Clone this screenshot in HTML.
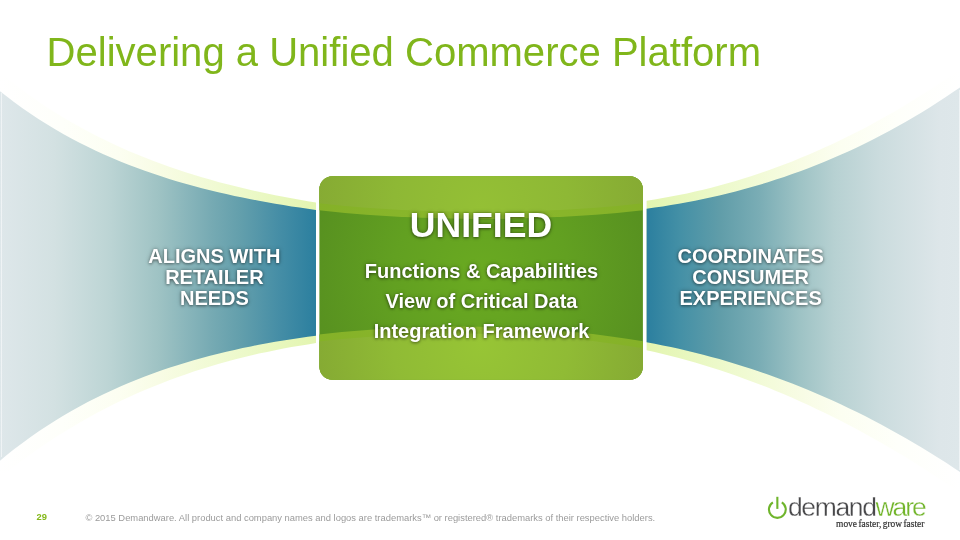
<!DOCTYPE html>
<html lang="en"><head><meta charset="utf-8"><title>Delivering a Unified Commerce Platform</title>
<style>
html,body{margin:0;padding:0;background:#fff}
#s{position:relative;width:960px;height:540px;overflow:hidden;background:#fff;font-family:"Liberation Sans",sans-serif}
#s svg.bg{position:absolute;left:0;top:0}
.t{position:absolute;white-space:nowrap;margin:0}
#tx{position:absolute;left:0;top:0;width:960px;height:540px;will-change:transform}
#title{left:46.6px;top:31.9px;font-size:40.05px;line-height:40px;color:#80b61b;font-weight:normal}
.w{color:#fff;font-weight:bold;text-align:center;text-shadow:0 1px 3px rgba(0,0,0,.4),0 0 4px rgba(0,0,0,.35)}
#uni{left:331px;width:300px;top:207.4px;font-size:35.6px;line-height:36px}
#sub{left:331.5px;width:300px;top:257.4px;font-size:20px;line-height:29.6px}
#lt{left:114.4px;width:200px;top:245.6px;font-size:20px;line-height:21.4px}
#rt{left:650.6px;width:200px;top:245.6px;font-size:20px;line-height:21.4px}
#pn{left:36.6px;top:511.1px;font-size:9.33px;line-height:12px;font-weight:bold;color:#84b819}
#ft{left:85.4px;top:512.1px;font-size:9.38px;line-height:12px;color:#9b9b9b}
#lg{left:788.4px;top:492px;font-size:25px;line-height:30px;letter-spacing:-1.29px;color:#48484a;-webkit-text-stroke:.3px #fff;transform:scaleX(1.06);transform-origin:0 0}
#lg b{font-weight:normal;color:#72b52b;letter-spacing:-2px}
#tg{right:35.6px;top:517.6px;font-family:"Liberation Serif",serif;font-size:9.45px;line-height:12px;color:#333;word-spacing:-1px;-webkit-text-stroke:.2px #333}
</style></head><body>
<div id="s">
<svg class="bg" width="960" height="540" viewBox="0 0 960 540">
<defs>
<linearGradient id="gl" gradientUnits="userSpaceOnUse" x1="0" y1="0" x2="316" y2="0">
<stop offset="0" stop-color="#dee7ea"/><stop offset="0.17" stop-color="#d3e1e2"/><stop offset="0.34" stop-color="#bdd5d5"/><stop offset="0.5" stop-color="#9fc3c4"/><stop offset="0.67" stop-color="#76aab3"/><stop offset="0.76" stop-color="#639fac"/><stop offset="0.88" stop-color="#468ea6"/><stop offset="1" stop-color="#2b7f9f"/>
</linearGradient>
<linearGradient id="gr" gradientUnits="userSpaceOnUse" x1="960" y1="0" x2="646.6" y2="0">
<stop offset="0" stop-color="#dee7ea"/><stop offset="0.064" stop-color="#dde6e9"/><stop offset="0.255" stop-color="#cbdcde"/><stop offset="0.4" stop-color="#b7d1d2"/><stop offset="0.51" stop-color="#9ec3c5"/><stop offset="0.64" stop-color="#7aadb5"/><stop offset="0.766" stop-color="#609da9"/><stop offset="0.893" stop-color="#4490a6"/><stop offset="1" stop-color="#2b7f9f"/>
</linearGradient>
<linearGradient id="bl" gradientUnits="userSpaceOnUse" x1="0" y1="0" x2="316" y2="0">
<stop offset="0" stop-color="#ffffff"/><stop offset="0.2" stop-color="#fefffa"/><stop offset="0.38" stop-color="#fcfef1"/><stop offset="0.5" stop-color="#f8fce5"/><stop offset="0.78" stop-color="#ecf9c9"/><stop offset="1" stop-color="#e3f5b0"/>
</linearGradient>
<linearGradient id="br" gradientUnits="userSpaceOnUse" x1="960" y1="0" x2="646.6" y2="0">
<stop offset="0" stop-color="#ffffff"/><stop offset="0.2" stop-color="#fefffa"/><stop offset="0.38" stop-color="#fcfef1"/><stop offset="0.5" stop-color="#f8fce5"/><stop offset="0.78" stop-color="#ecf9c9"/><stop offset="1" stop-color="#e3f5b0"/>
</linearGradient>
<radialGradient id="gb" gradientUnits="userSpaceOnUse" cx="481" cy="275" r="175">
<stop offset="0" stop-color="#6aaa21"/><stop offset="0.5" stop-color="#62a021"/><stop offset="1" stop-color="#579020"/>
</radialGradient>
<radialGradient id="gt" gradientUnits="userSpaceOnUse" cx="481" cy="208" r="175">
<stop offset="0" stop-color="#94c035"/><stop offset="0.5" stop-color="#8eb835"/><stop offset="1" stop-color="#85a933"/>
</radialGradient>
<radialGradient id="gbt" gradientUnits="userSpaceOnUse" cx="481" cy="345" r="175">
<stop offset="0" stop-color="#97c535"/><stop offset="0.5" stop-color="#90bb35"/><stop offset="1" stop-color="#84a833"/>
</radialGradient>
<radialGradient id="gm" gradientUnits="userSpaceOnUse" cx="481" cy="278" r="190">
<stop offset="0" stop-color="#8dbb2e"/><stop offset="1" stop-color="#84b027"/>
</radialGradient>
<clipPath id="cb"><rect x="319.4" y="176.2" width="323.5" height="203.6" rx="13" ry="13"/></clipPath>
</defs>
<path d="M-2.0,70.9 L6.2,77.6 L14.3,84.0 L22.5,90.2 L30.6,96.1 L38.8,101.7 L46.9,107.2 L55.1,112.4 L63.2,117.4 L71.4,122.2 L79.5,126.8 L87.7,131.3 L95.8,135.5 L104.0,139.6 L112.2,143.5 L120.3,147.3 L128.5,150.9 L136.6,154.3 L144.8,157.6 L152.9,160.8 L161.1,163.8 L169.2,166.8 L177.4,169.6 L185.5,172.2 L193.7,174.8 L201.8,177.3 L210.0,179.6 L218.2,181.9 L226.3,184.0 L234.5,186.1 L242.6,188.1 L250.8,190.0 L258.9,191.8 L267.1,193.5 L275.2,195.2 L283.4,196.8 L291.5,198.3 L299.7,199.8 L307.8,201.2 L316.0,202.5 L316.0,343.1 L307.8,344.4 L299.7,345.7 L291.5,347.1 L283.4,348.6 L275.2,350.2 L267.1,351.9 L258.9,353.6 L250.8,355.5 L242.6,357.5 L234.5,359.6 L226.3,361.8 L218.2,364.0 L210.0,366.5 L201.8,369.0 L193.7,371.6 L185.5,374.4 L177.4,377.2 L169.2,380.3 L161.1,383.4 L152.9,386.7 L144.8,390.1 L136.6,393.6 L128.5,397.3 L120.3,401.1 L112.2,405.1 L104.0,409.3 L95.8,413.6 L87.7,418.0 L79.5,422.7 L71.4,427.5 L63.2,432.5 L55.1,437.6 L46.9,443.0 L38.8,448.5 L30.6,454.3 L22.5,460.2 L14.3,466.3 L6.2,472.7 L-2.0,479.3Z" fill="url(#bl)"/>
<path d="M-2.0,89.6 L6.2,96.1 L14.3,102.3 L22.5,108.2 L30.6,113.8 L38.8,119.2 L46.9,124.3 L55.1,129.3 L63.2,134.0 L71.4,138.4 L79.5,142.7 L87.7,146.8 L95.8,150.7 L104.0,154.5 L112.2,158.0 L120.3,161.5 L128.5,164.7 L136.6,167.8 L144.8,170.8 L152.9,173.6 L161.1,176.3 L169.2,178.9 L177.4,181.4 L185.5,183.8 L193.7,186.0 L201.8,188.2 L210.0,190.2 L218.2,192.2 L226.3,194.1 L234.5,195.9 L242.6,197.6 L250.8,199.2 L258.9,200.8 L267.1,202.3 L275.2,203.7 L283.4,205.1 L291.5,206.4 L299.7,207.6 L307.8,208.8 L316.0,209.9 L316.0,335.7 L307.8,336.8 L299.7,337.9 L291.5,339.2 L283.4,340.5 L275.2,341.8 L267.1,343.3 L258.9,344.8 L250.8,346.4 L242.6,348.1 L234.5,349.9 L226.3,351.8 L218.2,353.8 L210.0,355.8 L201.8,358.0 L193.7,360.3 L185.5,362.7 L177.4,365.2 L169.2,367.8 L161.1,370.6 L152.9,373.5 L144.8,376.5 L136.6,379.7 L128.5,383.0 L120.3,386.5 L112.2,390.2 L104.0,394.0 L95.8,397.9 L87.7,402.1 L79.5,406.5 L71.4,411.0 L63.2,415.8 L55.1,420.7 L46.9,425.9 L38.8,431.3 L30.6,437.0 L22.5,442.9 L14.3,449.1 L6.2,455.5 L-2.0,462.3Z" fill="url(#gl)"/>
<path d="M646.6,200.7 L654.7,199.5 L662.8,198.1 L670.9,196.6 L678.9,195.1 L687.0,193.4 L695.1,191.6 L703.2,189.7 L711.3,187.7 L719.4,185.5 L727.5,183.3 L735.6,180.9 L743.6,178.5 L751.7,175.9 L759.8,173.2 L767.9,170.4 L776.0,167.5 L784.1,164.5 L792.2,161.4 L800.3,158.1 L808.3,154.7 L816.4,151.2 L824.5,147.6 L832.6,143.9 L840.7,140.1 L848.8,136.1 L856.9,132.0 L865.0,127.9 L873.0,123.5 L881.1,119.1 L889.2,114.5 L897.3,109.9 L905.4,105.1 L913.5,100.1 L921.6,95.1 L929.7,89.9 L937.7,84.6 L945.8,79.2 L953.9,73.7 L962.0,68.0 L962.0,494.2 L953.9,488.6 L945.8,483.1 L937.7,477.7 L929.7,472.4 L921.6,467.2 L913.5,462.1 L905.4,457.1 L897.3,452.2 L889.2,447.5 L881.1,442.8 L873.0,438.2 L865.0,433.7 L856.9,429.3 L848.8,425.0 L840.7,420.8 L832.6,416.7 L824.5,412.8 L816.4,408.9 L808.3,405.1 L800.3,401.4 L792.2,397.8 L784.1,394.3 L776.0,390.9 L767.9,387.6 L759.8,384.4 L751.7,381.4 L743.6,378.4 L735.6,375.5 L727.5,372.7 L719.4,370.0 L711.3,367.4 L703.2,364.9 L695.1,362.5 L687.0,360.2 L678.9,358.0 L670.9,355.9 L662.8,353.9 L654.7,352.0 L646.6,350.2Z" fill="url(#br)"/>
<path d="M646.6,208.7 L654.7,207.6 L662.8,206.4 L670.9,205.1 L678.9,203.8 L687.0,202.3 L695.1,200.7 L703.2,199.1 L711.3,197.3 L719.4,195.5 L727.5,193.5 L735.6,191.5 L743.6,189.3 L751.7,187.1 L759.8,184.7 L767.9,182.2 L776.0,179.6 L784.1,176.9 L792.2,174.1 L800.3,171.2 L808.3,168.2 L816.4,165.0 L824.5,161.7 L832.6,158.3 L840.7,154.8 L848.8,151.2 L856.9,147.4 L865.0,143.5 L873.0,139.5 L881.1,135.3 L889.2,131.0 L897.3,126.6 L905.4,122.0 L913.5,117.3 L921.6,112.5 L929.7,107.5 L937.7,102.3 L945.8,97.0 L953.9,91.6 L962.0,86.0 L962.0,473.3 L953.9,467.9 L945.8,462.6 L937.7,457.5 L929.7,452.4 L921.6,447.5 L913.5,442.7 L905.4,438.0 L897.3,433.4 L889.2,428.9 L881.1,424.5 L873.0,420.3 L865.0,416.1 L856.9,412.1 L848.8,408.2 L840.7,404.3 L832.6,400.6 L824.5,397.0 L816.4,393.5 L808.3,390.1 L800.3,386.8 L792.2,383.6 L784.1,380.5 L776.0,377.5 L767.9,374.6 L759.8,371.7 L751.7,369.0 L743.6,366.4 L735.6,363.9 L727.5,361.5 L719.4,359.1 L711.3,356.9 L703.2,354.7 L695.1,352.7 L687.0,350.7 L678.9,348.8 L670.9,347.1 L662.8,345.4 L654.7,343.7 L646.6,342.2Z" fill="url(#gr)"/>
<rect x="1" y="93" width="1" height="364" fill="#fff" opacity=".5"/><rect x="959" y="90" width="1" height="380" fill="#fff" opacity=".5"/>
<rect x="319.4" y="176.2" width="323.5" height="203.6" rx="13" ry="13" fill="url(#gb)"/>
<g clip-path="url(#cb)">
<ellipse cx="481" cy="163.9" rx="300" ry="55" fill="url(#gm)"/>
<ellipse cx="481" cy="156.9" rx="300" ry="55" fill="url(#gt)"/>
<ellipse cx="458" cy="456.5" rx="400" ry="130" fill="url(#gm)"/>
<ellipse cx="458" cy="463.5" rx="400" ry="130" fill="url(#gbt)"/>
</g>
</svg>
<div id="tx">
<h1 class="t" id="title">Delivering a Unified Commerce Platform</h1>
<div class="t w" id="uni">UNIFIED</div>
<div class="t w" id="sub">Functions &amp; Capabilities<br>View of Critical Data<br>Integration Framework</div>
<div class="t w" id="lt">ALIGNS WITH<br>RETAILER<br>NEEDS</div>
<div class="t w" id="rt">COORDINATES<br>CONSUMER<br>EXPERIENCES</div>
<div class="t" id="pn">29</div>
<div class="t" id="ft">© 2015 Demandware. All product and company names and logos are trademarks™ or registered® trademarks of their respective holders.</div>
<svg class="bg" width="960" height="540" viewBox="0 0 960 540">
<g fill="none" stroke="#6fb52c" stroke-width="2.1" stroke-linecap="butt">
<path d="M772.90,502.33 A8.4,8.4 0 1 0 781.80,502.33"/>
<path d="M777.35,496.8 V508.9"/>
</g>
</svg>
<div class="t" id="lg">demand<b>ware</b></div>
<div class="t" id="tg">move faster, grow faster</div>
</div>
</div>
</body></html>
